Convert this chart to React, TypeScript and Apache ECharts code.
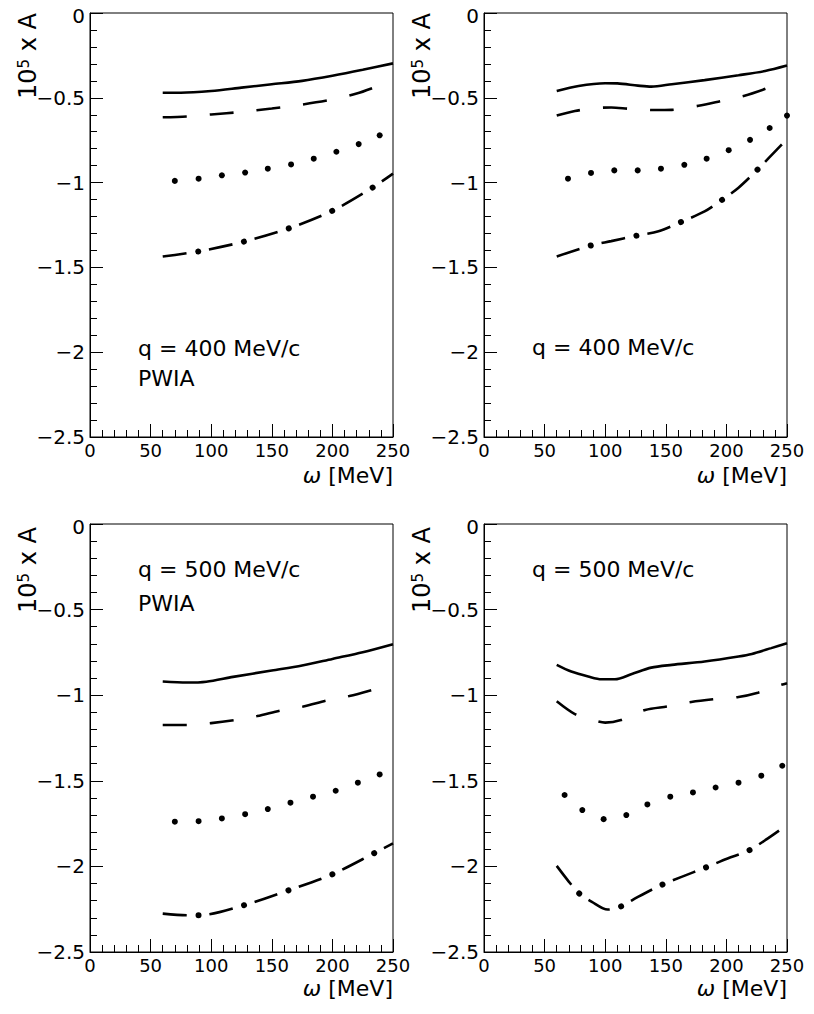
import React, { useEffect, useRef } from "react";
import * as echarts from "echarts";

// ---- data (omega [MeV], 10^5 x A) ----
const xTicks = [0, 50, 100, 150, 200, 250];
const yTicks = [0, -0.5, -1, -1.5, -2, -2.5];

const tlSolid = [[60, -0.47], [75, -0.47], [100, -0.46], [125, -0.44], [150, -0.42], [175, -0.4], [200, -0.37], [225, -0.335], [250, -0.297]];
const tlDashed = [[60, -0.615], [80, -0.61], [100, -0.598], [125, -0.583], [150, -0.563], [175, -0.54], [200, -0.51], [220, -0.475], [234, -0.44]];
const tlDotted = [[70, -0.99], [89.6, -0.977], [108.8, -0.957], [128, -0.941], [146.7, -0.918], [165.9, -0.893], [184.6, -0.859], [203.3, -0.818], [221.7, -0.773], [239, -0.721]];
const tlDashDot = [[60, -1.436], [90, -1.405], [127, -1.348], [164, -1.27], [200, -1.166], [233, -1.03], [250, -0.947]];

const trSolid = [[60, -0.46], [78, -0.43], [100, -0.414], [110, -0.415], [127, -0.428], [138, -0.434], [155, -0.42], [182, -0.396], [210, -0.367], [232, -0.342], [250, -0.31]];
const trDashed = [[60, -0.605], [75, -0.578], [90, -0.562], [105, -0.557], [120, -0.565], [140, -0.572], [155, -0.571], [177, -0.547], [196, -0.518], [215, -0.488], [233, -0.445]];
const trDotted = [[69.3, -0.977], [88.3, -0.943], [107.5, -0.928], [126.8, -0.928], [146, -0.918], [165.3, -0.895], [183.7, -0.859], [201.9, -0.809], [219.5, -0.748], [235.7, -0.678], [250, -0.605]];
const trDashDot = [[60, -1.436], [88, -1.371], [105, -1.345], [125, -1.314], [144, -1.287], [162, -1.234], [182, -1.17], [196, -1.104], [210, -1.03], [225, -0.928], [245, -0.781], [248, -0.76]];

const blSolid = [[60, -0.92], [80, -0.926], [96, -0.921], [118, -0.893], [150, -0.856], [175, -0.827], [200, -0.788], [225, -0.749], [250, -0.702]];
const blDashed = [[60, -1.174], [80, -1.174], [100, -1.163], [120, -1.145], [138, -1.122], [158, -1.088], [176, -1.066], [196, -1.03], [214, -1.005], [233, -0.969]];
const blDotted = [[70, -1.739], [89.6, -1.736], [108.8, -1.72], [128, -1.695], [146.7, -1.665], [165.4, -1.628], [184, -1.593], [202.7, -1.558], [221, -1.511], [239, -1.463]];
const blDashDot = [[60, -2.276], [80, -2.285], [90, -2.285], [127, -2.227], [164, -2.139], [200, -2.046], [235, -1.921], [250, -1.866]];

const brSolid = [[60, -0.823], [72, -0.862], [86, -0.891], [97, -0.907], [108, -0.907], [122, -0.876], [138, -0.839], [155, -0.823], [182, -0.803], [210, -0.774], [221, -0.759], [237, -0.725], [250, -0.696]];
const brDashed = [[60, -1.035], [75, -1.11], [90, -1.145], [100, -1.16], [113, -1.145], [133, -1.086], [152, -1.065], [171, -1.04], [189, -1.024], [210, -1.01], [226, -0.985], [245, -0.94], [250, -0.93]];
const brDotted = [[66.5, -1.583], [81.1, -1.671], [98.7, -1.724], [117.4, -1.7], [134.8, -1.638], [153.7, -1.593], [172.4, -1.568], [191.1, -1.539], [210, -1.511], [228.8, -1.47], [246.1, -1.412]];
const brDashDot = [[60, -1.997], [69, -2.08], [78, -2.155], [89, -2.207], [102, -2.252], [112, -2.237], [127, -2.178], [146, -2.11], [163, -2.061], [182, -2.009], [201, -1.954], [218, -1.909], [232, -1.847], [246, -1.778]];

const qLabels = ["q = 400 MeV/c", "q = 400 MeV/c", "q = 500 MeV/c", "q = 500 MeV/c"];
const pwiaLabel = "PWIA";

const FONT = '"DejaVu Sans", sans-serif';

// ---- layout ----
const panels = [
  { left: 90, top: 10, width: 303, height: 427, data: [tlSolid, tlDashed, tlDotted, tlDashDot], q: qLabels[0], pwia: true, qx: 138, qy: 348, py: 378, xny: 475 },
  { left: 484, top: 10, width: 303, height: 427, data: [trSolid, trDashed, trDotted, trDashDot], q: qLabels[1], pwia: false, qx: 532, qy: 347, py: 0, xny: 475 },
  { left: 90, top: 524, width: 303, height: 428, data: [blSolid, blDashed, blDotted, blDashDot], q: qLabels[2], pwia: true, qx: 138, qy: 569, py: 603, xny: 988 },
  { left: 484, top: 524, width: 303, height: 428, data: [brSolid, brDashed, brDotted, brDashDot], q: qLabels[3], pwia: false, qx: 532, qy: 569, py: 0, xny: 988 },
];

function buildOption() {
  const grid: any[] = [];
  const xAxis: any[] = [];
  const yAxis: any[] = [];
  const series: any[] = [];
  const graphic: any[] = [];

  panels.forEach((p, i) => {
    grid.push({ left: p.left, top: p.top, width: p.width, height: p.height, show: true, borderColor: "#000", borderWidth: 1, backgroundColor: "transparent" });
    xAxis.push({
      type: "value", gridIndex: i, min: xTicks[0], max: xTicks[xTicks.length - 1], interval: 50,
      axisLine: { show: true, onZero: false, lineStyle: { color: "#000", width: 1 } },
      axisTick: { show: true, inside: true, length: 13, lineStyle: { color: "#000", width: 1 } },
      minorTick: { show: true, splitNumber: 5, length: 7, lineStyle: { color: "#000", width: 1 } },
      splitLine: { show: false },
      axisLabel: { show: true, color: "#000", fontFamily: FONT, fontSize: 18, lineHeight: 18, margin: 4, showMaxLabel: true, showMinLabel: true },
    });
    yAxis.push({
      type: "value", gridIndex: i, min: yTicks[yTicks.length - 1], max: yTicks[0], interval: 0.5,
      axisLine: { show: true, onZero: false, lineStyle: { color: "#000", width: 1 } },
      axisTick: { show: true, inside: true, length: 13, lineStyle: { color: "#000", width: 1 } },
      minorTick: { show: true, splitNumber: 5, length: 7, lineStyle: { color: "#000", width: 1 } },
      splitLine: { show: false },
      axisLabel: {
        show: true, color: "#000", fontFamily: FONT, fontSize: 20, lineHeight: 16, margin: 5, showMaxLabel: true, showMinLabel: true,
        formatter: (v: number) => (v === 0 ? "{z|0}" : String(v).replace("-", "\u2212")),
        rich: { z: { fontFamily: FONT, fontSize: 20, lineHeight: 16, color: "#000", padding: [6, 0, 0, 0] } },
      },
    });

    const [solid, dashed, dotted, dashDot] = p.data;
    const base = { xAxisIndex: i, yAxisIndex: i, symbol: "none", showSymbol: false, smooth: 0.3, silent: true, z: 3 };
    series.push({ ...base, type: "line", name: "solid", data: solid, lineStyle: { color: "#000", width: 2.6 } });
    series.push({ ...base, type: "line", name: "dashed", data: dashed, lineStyle: { color: "#000", width: 2.6, type: [24, 23], dashOffset: 0 } });
    series.push({ type: "scatter", name: "dotted", xAxisIndex: i, yAxisIndex: i, data: dotted, symbol: "circle", symbolSize: 6, itemStyle: { color: "#000", opacity: 1 }, silent: true, z: 3 });
    series.push({ ...base, type: "line", name: "dash-dot", data: dashDot, lineStyle: { color: "#000", width: 2.6, type: [24, 22.8], dashOffset: 0 } });
    series.push({ ...base, type: "line", name: "dash-dot dots", data: dashDot, lineStyle: { color: "#000", width: 6, type: [0.01, 46.79], dashOffset: 10.9, cap: "round" } });

    // axis titles
    graphic.push({
      type: "text", x: p.left - 62, y: p.top + 3, rotation: Math.PI / 2, silent: true,
      style: {
        text: "{n|10}{s|5}{n| x A}", align: "right", verticalAlign: "middle", fill: "#000",
        rich: {
          n: { fontSize: 24, fontFamily: FONT, fill: "#000", verticalAlign: "bottom" },
          s: { fontSize: 15, fontFamily: FONT, fill: "#000", verticalAlign: "top" },
        },
      },
    });
    graphic.push({
      type: "text", x: p.left + p.width, y: p.xny, silent: true,
      style: {
        text: "{i|\u03c9}{n| [MeV]}", align: "right", verticalAlign: "middle", fill: "#000",
        rich: {
          i: { fontSize: 22, lineHeight: 22, fontFamily: FONT, fontStyle: "italic", fill: "#000" },
          n: { fontSize: 22, lineHeight: 22, fontFamily: FONT, fill: "#000" },
        },
      },
    });
    graphic.push({
      type: "text", x: p.qx, y: p.qy, silent: true,
      style: { text: p.q, fontSize: 22, fontFamily: FONT, fill: "#000", align: "left", verticalAlign: "middle" },
    });
    if (p.pwia) {
      graphic.push({
        type: "text", x: p.qx, y: p.py, silent: true,
        style: { text: pwiaLabel, fontSize: 22, fontFamily: FONT, fill: "#000", align: "left", verticalAlign: "middle" },
      });
    }
  });

  return { animation: false, backgroundColor: "#fff", grid, xAxis, yAxis, series, graphic };
}

export default function App() {
  const ref = useRef<HTMLDivElement>(null);
  useEffect(() => {
    if (!ref.current) return;
    const chart = echarts.init(ref.current, undefined, { renderer: "svg" });
    chart.setOption(buildOption() as any);
    return () => chart.dispose();
  }, []);
  return <div ref={ref} style={{ position: "absolute", left: 0, top: 0, width: 814, height: 1014, background: "#fff" }} />;
}
